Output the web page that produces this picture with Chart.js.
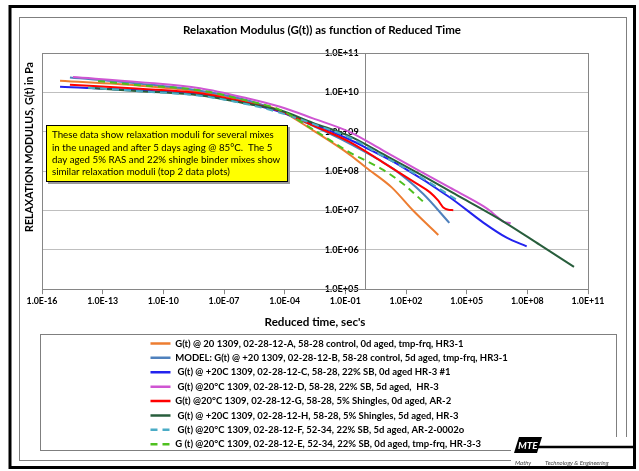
<!DOCTYPE html>
<html><head><meta charset="utf-8">
<script src="https://cdn.jsdelivr.net/npm/chart.js"></script>
<style>html,body{margin:0;padding:0;background:#fff;}canvas{display:block;}</style>
</head><body>
<canvas id="c" width="639" height="471"></canvas>
<script>
const FONT = "Lato, 'Open Sans', 'Liberation Sans', Arial, sans-serif";

// ---- data ----
const xTickValues = [1e-16, 1e-13, 1e-10, 1e-7, 1e-4, 1e-1, 1e2, 1e5, 1e8, 1e11];
const xTickLabels = ['1.0E-16','1.0E-13','1.0E-10','1.0E-07','1.0E-04','1.0E-01','1.0E+02','1.0E+05','1.0E+08','1.0E+11'];
const yTickValues = [1e5, 1e6, 1e7, 1e8, 1e9, 1e10, 1e11];
const yTickLabels = ['1.0E+05','1.0E+06','1.0E+07','1.0E+08','1.0E+09','1.0E+10','1.0E+11'];

const seriesNames = [
  "G(t) @ 20 1309, 02-28-12-A, 58-28 control, 0d aged, tmp-frq, HR3-1",
  "MODEL: G(t) @ +20 1309, 02-28-12-B, 58-28 control, 5d aged, tmp-frq, HR3-1",
  " G(t) @ +20C 1309, 02-28-12-C, 58-28, 22% SB, 0d aged HR-3 #1",
  " G(t) @20°C 1309, 02-28-12-D, 58-28, 22% SB, 5d aged,  HR-3",
  "G(t) @20°C 1309, 02-28-12-G, 58-28, 5% Shingles, 0d aged, AR-2",
  " G(t) @ +20C 1309, 02-28-12-H, 58-28, 5% Shingles, 5d aged, HR-3",
  " G(t) @20°C 1309, 02-28-12-F, 52-34, 22% SB, 5d aged, AR-2-0002o",
  "G (t) @20°C 1309, 02-28-12-E, 52-34, 22% SB, 0d aged, tmp-frq, HR-3-3"
];

// A (orange)
const tA = [7.8e-16, 7.0e-12, 6.5e-9, 1.4e-6, 5.9e-5, 2.5e-3, 0.17, 1.05, 19.6, 230, 3960];
const gA = [1.96e10, 1.48e10, 1.04e10, 5.95e9, 3.45e9, 1.08e9, 2.59e8, 1.23e8, 3.86e7, 9.8e6, 2.39e6];
// B (model, steel blue)
const tB = [2.4e-15, 7.0e-12, 6.5e-9, 1.4e-6, 5.9e-5, 2.5e-3, 0.17, 23.6, 718, 1.39e4];
const gB = [2.37e10, 1.66e10, 1.10e10, 6.3e9, 3.25e9, 1.41e9, 4.94e8, 1.14e8, 2.62e7, 4.84e6];
// C (blue)
const tC = [7.8e-16, 7.0e-12, 6.5e-9, 1.4e-6, 5.9e-5, 2.5e-3, 0.17, 1.05, 50.6, 1.5e4, 6.65e5, 9.5e6, 9.3e7];
const gC = [1.38e10, 1.13e10, 8.7e9, 5.29e9, 3.2e9, 1.58e9, 6.25e8, 3.91e8, 1.38e8, 2.14e7, 4.93e6, 2.04e6, 1.23e6];
// D (magenta)
const tD = [3.4e-15, 7.0e-12, 6.5e-9, 1.4e-6, 5.9e-5, 2.5e-3, 0.17, 7.5, 338, 1.5e4, 6.65e5, 1.43e6, 3.06e6, 6.5e6, 1.5e7];
const gD = [2.44e10, 1.82e10, 1.28e10, 7.1e9, 4.3e9, 2.19e9, 9.8e8, 3.33e8, 1.11e8, 3.79e7, 1.29e7, 9.8e6, 7.0e6, 5.2e6, 4.75e6];
// G (red)
const tG = [2.4e-15, 7.0e-12, 6.5e-9, 1.4e-6, 5.9e-5, 2.5e-3, 0.17, 7.5, 338, 1540, 3960, 7000, 1.24e4, 2.18e4];
const gG = [1.57e10, 1.24e10, 9.5e9, 5.44e9, 3.35e9, 1.45e9, 5.43e8, 1.65e8, 4.8e7, 2.88e7, 1.77e7, 1.19e7, 1.04e7, 1.02e7];
// H (dark green)
const tH = [1.9e-14, 7.0e-12, 6.5e-9, 1.4e-6, 5.9e-5, 2.5e-3, 0.17, 7.5, 338, 4.7e4, 7.9e6, 4.2e8, 2.03e10];
const gH = [1.31e10, 1.07e10, 8.45e9, 5.13e9, 3.5e9, 1.68e9, 7.6e8, 2.69e8, 9.3e7, 2.21e7, 4.93e6, 1.33e6, 3.7e5];
// F (teal dashed)
const tF = [1.9e-14, 7.0e-12, 6.5e-9, 1.4e-6, 5.9e-5, 2.5e-3, 0.17, 7.5, 338, 4.3e4];
const gF = [1.31e10, 1.07e10, 8.2e9, 4.98e9, 3.05e9, 1.58e9, 7.03e8, 2.39e8, 8.1e7, 1.69e7];
// E (green dashed)
const tE = [5.9e-14, 7.0e-12, 6.5e-9, 1.4e-6, 5.9e-5, 2.5e-3, 0.17, 7.5, 73.6, 778];
const gE = [1.93e10, 1.52e10, 1.13e10, 6.12e9, 3.6e9, 1.15e9, 2.96e8, 1.07e8, 4.7e7, 1.6e7];

const noteLines = [
  "These data show relaxation moduli for several mixes",
  "in the unaged and after 5 days aging @ 85°C.  The 5",
  "day aged 5% RAS and 22% shingle binder mixes show",
  "similar relaxation moduli (top 2 data plots)"
];
const chartTitle = "Relaxation Modulus (G(t)) as function of Reduced Time";
const xTitle = "Reduced time, sec's";
const yTitle = "RELAXATION MODULUS, G(t) in Pa";

// ---- styles ----
const colors = ['#ED7D31', '#4F81BD', '#2323EE', '#CF55D2', '#FF0000', '#285E3C', '#4BACC6', '#4FC01F'];
const dashes = [[], [], [], [], [], [], [7, 5], [7, 5]];

// font size that gives a text a target width
const mctx = document.createElement('canvas').getContext('2d');
function fit(text, weight, width) {
  mctx.font = weight + ' 20px ' + FONT;
  return +(20 * width / mctx.measureText(text).width).toFixed(2);
}
const fsTitle = fit(chartTitle, 'bold', 278);
const fsLegend = fit(seriesNames[1], 'bold', 333);
const fsX = fit('1.0E-16', 'bold', 31);
const fsY = fit('1.0E+11', 'bold', 34);
const fsXTitle = fit(xTitle, 'bold', 101);
const fsYTitle = fit(yTitle, 'bold', 170);
const fsNote = fit(noteLines[0], 'normal', 222);

function pts(t, g) { return t.map((v, i) => ({ x: v, y: g[i] })); }
const series = [[tA, gA], [tB, gB], [tC, gC], [tD, gD], [tG, gG], [tH, gH], [tF, gF], [tE, gE]];
const datasets = series.map((s, i) => ({
  label: seriesNames[i],
  data: pts(s[0], s[1]),
  borderColor: colors[i],
  backgroundColor: colors[i],
  borderDash: dashes[i],
  borderWidth: 2,
  pointRadius: 0,
  fill: false,
  cubicInterpolationMode: 'monotone',
  order: series.length - i
}));

const deco = {
  id: 'deco',
  beforeDraw(chart) {
    const c = chart.ctx; c.save(); c.fillStyle = '#fff'; c.fillRect(0, 0, chart.width, chart.height); c.restore();
  },
  afterLayout(chart) {
    if (chart.legend) chart.legend.left = 145.6;
  },
  afterDraw(chart) {
    const c = chart.ctx, a = chart.chartArea;
    c.save();
    c.strokeStyle = '#868686'; c.lineWidth = 1;
    c.strokeRect(Math.round(a.left) + 0.5, Math.round(a.top) + 0.5, Math.round(a.right - a.left), Math.round(a.bottom - a.top));
    c.strokeStyle = '#7f7f7f';
    c.strokeRect(19.5, 17.5, 607, 443);
    c.strokeRect(40.5, 334.5, 576, 116);
    c.strokeStyle = '#000'; c.lineWidth = 3;
    c.strokeRect(10, 6.5, 624.5, 461);
    // note box
    c.fillStyle = '#9a9a9a'; c.fillRect(48, 127, 242, 57);
    c.fillStyle = '#FFFF00'; c.fillRect(46, 125, 242, 57);
    c.strokeStyle = '#000'; c.lineWidth = 1; c.strokeRect(46.5, 125.5, 241, 56);
    c.fillStyle = '#000'; c.font = fsNote + 'px ' + FONT; c.textBaseline = 'middle'; c.textAlign = 'left';
    noteLines.forEach((l, i) => c.fillText(l, 52, 135 + i * 12.4));
    // y title
    c.save(); c.translate(30, 147); c.rotate(-Math.PI / 2);
    c.font = 'bold ' + fsYTitle + 'px ' + FONT; c.textAlign = 'center'; c.fillText(yTitle, 0, 0); c.restore();
    // logo
    c.fillStyle = '#fff'; c.fillRect(511, 437, 121, 29);
    c.strokeStyle = '#000'; c.lineWidth = 2.5; c.beginPath(); c.moveTo(538, 447); c.lineTo(633, 447); c.stroke();
    c.fillStyle = '#000'; c.beginPath(); c.moveTo(514, 453); c.lineTo(519, 437); c.lineTo(542, 437); c.lineTo(537, 453); c.closePath(); c.fill();
    c.fillStyle = '#fff'; c.font = 'italic bold 10px ' + FONT; c.textAlign = 'left'; c.fillText('MTE', 518, 446);
    c.fillStyle = '#444'; c.font = 'italic 6px ' + FONT;
    c.fillText('Mathy', 515, 463); c.fillText('Technology & Engineering', 545, 463);
    c.restore();
  }
};

new Chart(document.getElementById('c'), {
  type: 'line',
  data: { datasets },
  plugins: [deco],
  options: {
    responsive: false, animation: false, devicePixelRatio: 1,
    layout: { padding: { left: 42, right: 37, top: 10, bottom: 12 } },
    plugins: {
      tooltip: { enabled: false },
      title: { display: true, text: chartTitle, color: '#000', font: { size: fsTitle, weight: 'bold', family: FONT, lineHeight: 1.2 }, padding: { top: 13, bottom: 43 - 13 - fsTitle * 1.2 } },
      legend: {
        position: 'bottom', align: 'start', maxHeight: 130.4,
        labels: {
          usePointStyle: true, pointStyleWidth: 20, padding: 14.4 - fsLegend, color: '#000',
          font: { size: fsLegend, weight: 'bold', family: FONT },
          generateLabels: (chart) => chart.data.datasets.map((ds, i) => ({
            text: ds.label, strokeStyle: ds.borderColor, fillStyle: ds.borderColor,
            lineWidth: 2.5, lineDash: ds.borderDash, pointStyle: 'line', hidden: false,
            datasetIndex: i, fontColor: '#000'
          }))
        }
      }
    },
    scales: {
      x: {
        type: 'logarithmic', min: 1e-16, max: 1e11, position: 'bottom',
        afterBuildTicks: s => { s.ticks = xTickValues.map(v => ({ value: v })); },
        afterFit: s => { s.height = 44.6; },
        grid: { display: true, drawOnChartArea: false, tickLength: 5, color: '#868686' },
        border: { display: true, color: '#868686' },
        ticks: { autoSkip: false, maxRotation: 0, padding: 2, color: '#000', font: { size: fsX, weight: 'bold', family: FONT }, callback: (v, i) => xTickLabels[i] },
        title: { display: true, text: xTitle, color: '#000', font: { size: fsXTitle, weight: 'bold', family: FONT }, padding: { top: 0, bottom: 5 } }
      },
      y: {
        type: 'logarithmic', min: 1e5, max: 1e11, position: { x: 1 },
        afterBuildTicks: s => { s.ticks = yTickValues.map(v => ({ value: v })); },
        afterFit: s => { s.width = 0; },
        grid: { color: '#BFBFBF', tickLength: 4 },
        border: { display: true, color: '#868686' },
        ticks: { padding: 6, color: '#000', font: { size: fsY, weight: 'bold', family: FONT }, callback: (v, i) => yTickLabels[i] + '\u2003' }
      },
      yR: {
        type: 'linear', position: 'right', display: true,
        grid: { display: false, drawTicks: false }, border: { display: false }, ticks: { display: false },
        afterFit: s => { s.width = 14; }
      }
    }
  }
});
</script>
</body></html>
